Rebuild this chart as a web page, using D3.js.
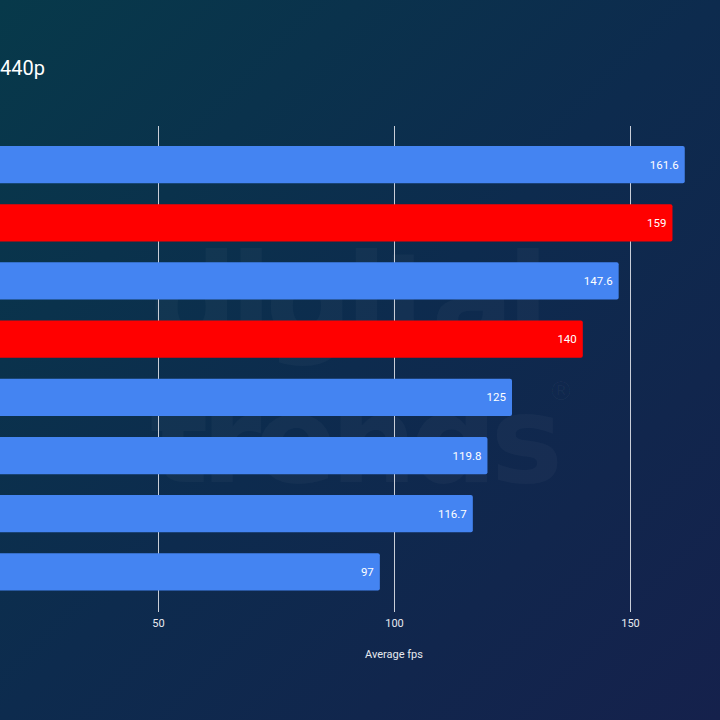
<!DOCTYPE html>
<html>
<head>
<meta charset="utf-8">
<script src="https://cdn.jsdelivr.net/npm/d3@7"></script>
<style>
	body { margin: 0; background: #0b2a4d; }
	svg { display: block; font-family: Roboto, "Liberation Sans", sans-serif; }
</style>
</head>
<body>
<div id="container"></div>
<script>
const categories = ["GPU A", "GPU B", "GPU C", "GPU D", "GPU E", "GPU F", "GPU G", "GPU H"];
const values = [161.6, 159, 147.6, 140, 125, 119.8, 116.7, 97];
const highlighted = [false, true, false, true, false, false, false, false];
const tickValues = [50, 100, 150];
const title = "440p";
const axisTitle = "Average fps";

document.addEventListener("DOMContentLoaded", () => {
	const w = 720; // canvas width
	const h = 720; // canvas height

	const svg = d3.select("#container").append("svg").attr("width", w).attr("height", h);

	// background gradient
	const defs = svg.append("defs");
	const grad = defs.append("linearGradient").attr("id", "bg").attr("x1", "0").attr("y1", "0").attr("x2", "1").attr("y2", "1");
	grad.append("stop").attr("offset", "0%").attr("stop-color", "#07394a");
	grad.append("stop").attr("offset", "50%").attr("stop-color", "#0d2b4e");
	grad.append("stop").attr("offset", "100%").attr("stop-color", "#15214c");
	svg.append("rect").attr("width", w).attr("height", h).attr("fill", "url(#bg)");

	// faint watermark, behind everything
	const wm = svg.append("g").attr("fill", "#ffffff").attr("fill-opacity", 0.03).style("font-weight", "bold").style("font-family", "'DejaVu Sans', sans-serif");
	wm.append("text").attr("x", 150).attr("y", 340).attr("font-size", 122).attr("letter-spacing", -7).text("digital");
	wm.append("text").attr("x", 150).attr("y", 482).attr("font-size", 122).attr("letter-spacing", -7).text("trends");
	wm.append("text").attr("x", 548).attr("y", 400).attr("font-size", 26).style("font-weight", "normal").text("®");

	const xScale = d3.scaleLinear().domain([0, 150]).range([-78, 630]);
	const yScale = d3.scaleBand().domain(categories).range([135.5, 601]).paddingInner(0.36).paddingOuter(0.18);

	// grid lines
	const xAxis = d3.axisBottom(xScale).tickValues(tickValues).tickSize(-(612 - 126)).tickPadding(7);
	const gx = svg.append("g").attr("transform", "translate(0, 612)").call(xAxis);
	gx.select(".domain").remove();
	gx.selectAll(".tick line").attr("stroke", "#c9ced8").attr("stroke-width", 1);
	gx.selectAll(".tick text").attr("fill", "#e6e9ef").attr("font-size", 11).style("font-family", "Roboto, sans-serif");

	svg.append("text").attr("x", xScale(100)).attr("y", 658).attr("text-anchor", "middle").attr("fill", "#e6e9ef").attr("font-size", 11).text(axisTitle);

	// bars
	const bars = svg.selectAll(".bar").data(values).enter().append("g").attr("class", "bar");
	bars.append("rect")
		.attr("x", xScale(0))
		.attr("y", (d, i) => yScale(categories[i]))
		.attr("width", (d) => xScale(d) - xScale(0))
		.attr("height", yScale.bandwidth())
		.attr("rx", 2)
		.attr("fill", (d, i) => highlighted[i] ? "#ff0000" : "#4484f2");

	bars.append("text")
		.attr("x", (d) => xScale(d) - 6)
		.attr("y", (d, i) => yScale(categories[i]) + yScale.bandwidth() / 2)
		.attr("dy", "0.35em")
		.attr("text-anchor", "end")
		.attr("fill", "#ffffff")
		.attr("font-size", 11.5)
		.text((d) => d);

	svg.append("text").attr("x", 0).attr("y", 75).attr("fill", "#ffffff").attr("font-size", 20).text(title);
});
</script>
</body>
</html>
